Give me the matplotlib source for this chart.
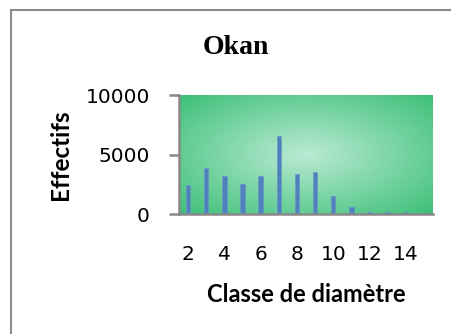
import matplotlib.pyplot as plt
import matplotlib.patches as mpatches
import numpy as np

# diameter classes and counts
classes = [2, 3, 4, 5, 6, 7, 8, 9, 10, 11, 12, 13, 14, 15]
effectifs = [2400, 3900, 3220, 2560, 3220, 6590, 3390, 3560, 1530, 560, 190, 190, 190, 0]
xtick_labels = ['2', '4', '6', '8', '10', '12', '14']
yticks = [0, 5000, 10000]

W, H = 452, 334
fig = plt.figure(figsize=(W / 100, H / 100), dpi=100)

# chart frame (grey border, cut at right and bottom)
frame = mpatches.Rectangle((11 / W, -0.05), 1.2, 1 - 10 / H + 0.05, transform=fig.transFigure,
                           fill=False, edgecolor='#8c8c8c', linewidth=1.5)
fig.patches.append(frame)

ax = fig.add_axes([179 / W, (H - 214) / H, (433 - 179) / W, (214 - 95) / H])

# radial green gradient behind the bars
gx, gy = np.meshgrid(np.linspace(-1, 1, 200), np.linspace(-1, 1, 200))
r = np.clip(np.sqrt(gx ** 2 + gy ** 2) / np.sqrt(2), 0, 1)
c_in = np.array([0.73, 0.92, 0.83])
c_out = np.array([0.24, 0.75, 0.47])
img = c_in[None, None, :] * (1 - r[..., None]) + c_out[None, None, :] * r[..., None]
ax.imshow(img, extent=[1.5, 15.5, 0, 10000], aspect='auto', zorder=0)

ax.bar(classes, effectifs, width=0.25, color='#4F81BD', edgecolor='#6a95c8', linewidth=0.5, zorder=2)

ax.set_xlim(1.5, 15.5)
ax.set_ylim(0, 10000)
ax.set_yticks(yticks)
ax.set_yticklabels([str(v) for v in yticks])
ax.set_xticks([2, 4, 6, 8, 10, 12, 14])
ax.set_xticklabels(xtick_labels)

for s in ['top', 'right']:
    ax.spines[s].set_visible(False)
for s in ['left', 'bottom']:
    ax.spines[s].set_color('#888888')
    ax.spines[s].set_linewidth(1.8)
ax.tick_params(axis='y', length=7, width=1.8, color='#888888', labelsize=14.5, pad=14)
ax.tick_params(axis='x', length=0, labelsize=14.5, pad=22)

ax.set_xlabel('Classe de diamètre', fontsize=17, fontweight='bold', family='Lato', labelpad=14)
ax.set_ylabel('Effectifs', fontsize=17.5, fontweight='bold', family='Lato', labelpad=10)

fig.text(236 / W, 1 - 48 / H, 'Okan', ha='center', va='center', fontsize=20,
         fontweight='bold', family='Liberation Serif')

plt.savefig('out.png', dpi=100)
